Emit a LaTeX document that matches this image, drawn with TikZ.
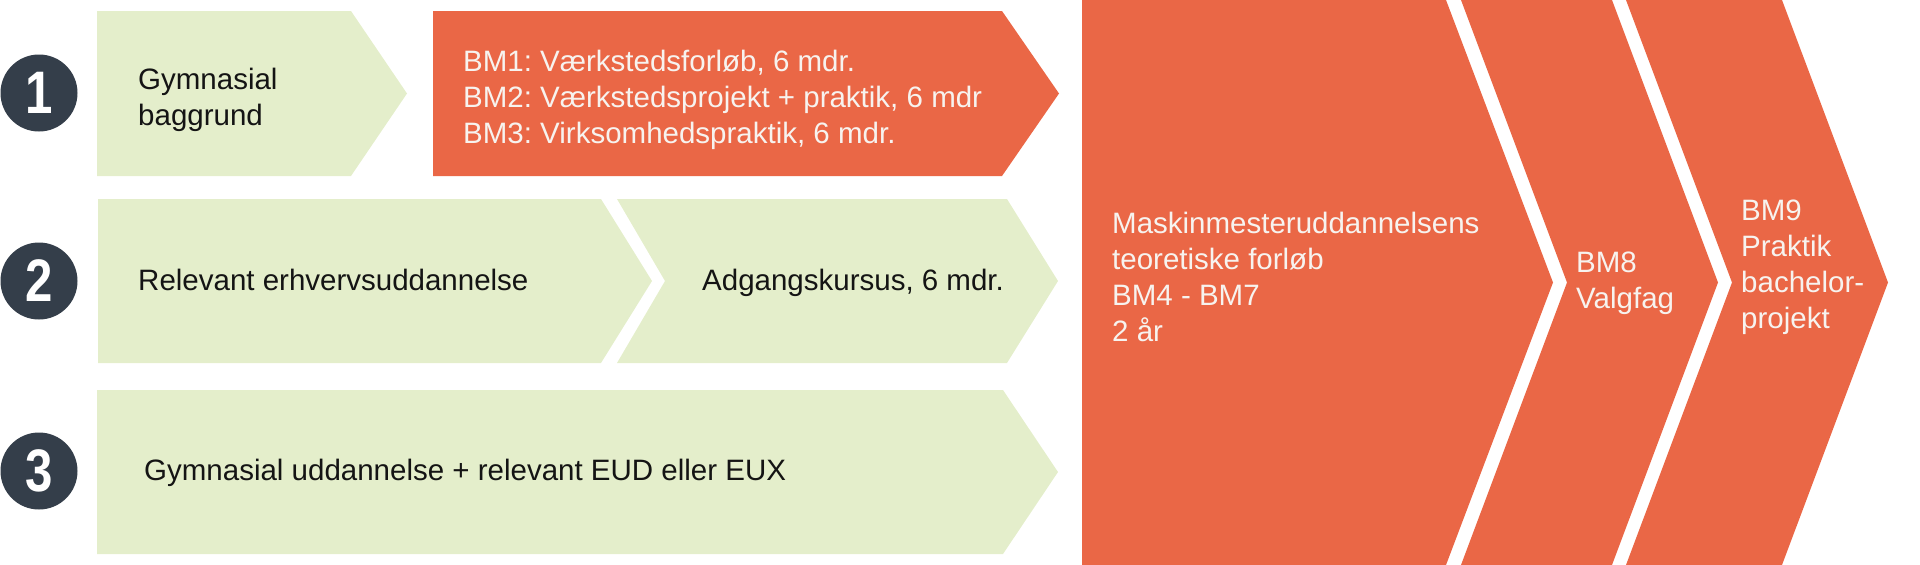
\documentclass[tikz,border=0pt]{standalone}
\usepackage{fontspec}
\setmainfont{Liberation Sans}
\frenchspacing
\definecolor{mgreen}{HTML}{E4EECB}
\definecolor{morange}{HTML}{EA6746}
\definecolor{mdark}{HTML}{343E4A}
\definecolor{mwhite}{HTML}{F7F3EF}
\tikzset{
  greenshape/.style={fill=mgreen, draw=none},
  orangeshape/.style={fill=morange, draw=none},
  numcircle/.style={circle, fill=mdark, minimum size=77pt, inner sep=0pt, text=white,
    font=\fontsize{60}{60}\selectfont\bfseries},
  lbl/.style={anchor=base west, inner sep=0pt, font=\fontsize{29.5}{36}\selectfont},
  darklbl/.style={lbl, text=black!92},
  lightlbl/.style={lbl, text=mwhite},
}
\newcommand{\numtxt}[1]{\scalebox{0.82}[1]{#1}}
\begin{document}
\begin{tikzpicture}[x=1pt, y=-1pt]
\useasboundingbox (0,0) rectangle (1920,565);
% row 1
\fill[greenshape] (97,11) -- (351,11) -- (407,93.5) -- (351,176) -- (97,176) -- cycle;
\fill[orangeshape] (433,11) -- (1002,11) -- (1059,93.5) -- (1002,176) -- (433,176) -- cycle;
% row 2
\fill[greenshape] (98,199) -- (601,199) -- (652,281) -- (601,363) -- (98,363) -- cycle;
\fill[greenshape] (617,199) -- (1007,199) -- (1058,281) -- (1007,363) -- (617,363) -- (665,281) -- cycle;
% row 3
\fill[greenshape] (97,390) -- (1003,390) -- (1058,472) -- (1003,554) -- (97,554) -- cycle;
% big chevrons
\fill[orangeshape] (1082,0) -- (1446,0) -- (1553,282.5) -- (1446,565) -- (1082,565) -- cycle;
\fill[orangeshape] (1461,0) -- (1612,0) -- (1718,282.5) -- (1612,565) -- (1461,565) -- (1567,282.5) -- cycle;
\fill[orangeshape] (1626,0) -- (1782,0) -- (1888,282.5) -- (1782,565) -- (1626,565) -- (1732,282.5) -- cycle;
% circles
\node[numcircle] (n1) at (39,93) {\numtxt{1}};
\node[numcircle] (n2) at (39,281) {\numtxt{2}};
\node[numcircle] (n3) at (39,471) {\numtxt{3}};
% texts
\node[darklbl] (t1) at (138,89) {\vtop{\hbox{Gymnasial}\hbox{baggrund}}};
\node[lightlbl] (t1b) at (463,71) {\vtop{\hbox{BM1: Værkstedsforløb, 6 mdr.}\hbox{BM2: Værkstedsprojekt + praktik, 6 mdr}\hbox{BM3: Virksomhedspraktik, 6 mdr.}}};
\node[darklbl] (t2) at (138,290) {Relevant erhvervsuddannelse};
\node[darklbl] (t2b) at (702,290) {Adgangskursus, 6 mdr.};
\node[darklbl] (t3) at (144,480) {Gymnasial uddannelse + relevant EUD eller EUX};
\node[lightlbl] (t4) at (1112,233) {\vtop{\hbox{Maskinmesteruddannelsens}\hbox{teoretiske forløb}\hbox{BM4 - BM7}\hbox{2 år}}};
\node[lightlbl] (t5) at (1576,272) {\vtop{\hbox{BM8}\hbox{Valgfag}}};
\node[lightlbl] (t6) at (1741,220) {\vtop{\hbox{BM9}\hbox{Praktik}\hbox{bachelor-}\hbox{projekt}}};
\end{tikzpicture}
\end{document}
